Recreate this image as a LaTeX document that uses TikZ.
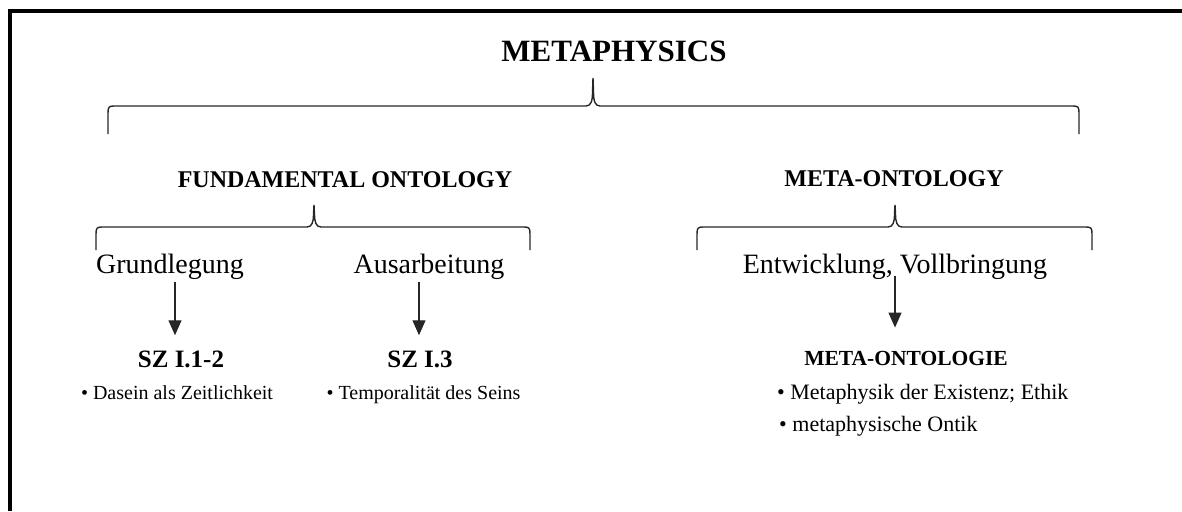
\documentclass[tikz,border=0pt]{standalone}
\usepackage{fontspec}
\setmainfont{Liberation Serif}
\usetikzlibrary{arrows.meta,positioning,calc}

\begin{document}
\begin{tikzpicture}[
    x=1pt,y=-1pt,
    every node/.style={inner sep=0pt,anchor=base},
    title/.style={font=\bfseries\fontsize{31}{36}\selectfont},
    branch/.style={font=\bfseries\fontsize{24}{29}\selectfont},
    term/.style={font=\fontsize{28}{33}\selectfont},
    work/.style={font=\bfseries\fontsize{25}{30}\selectfont},
    workmeta/.style={font=\bfseries\fontsize{21.5}{26}\selectfont},
    point/.style={font=\fontsize{20}{24}\selectfont},
    pointmeta/.style={font=\fontsize{22}{26}\selectfont,anchor=base west},
    bracket/.style={draw=black!85,line width=1.4pt},
    lead/.style={-{Triangle[width=13pt,length=15pt]},draw=black!85,line width=1.3pt},
    frame/.style={draw=black,line width=4pt},
]
\useasboundingbox (0,0) rectangle (1182,511);
% ---- frame (top and left edge only) ----
\draw[frame] (9.5,511) -- (9.5,11.5) -- (1182,11.5);

% ---- top level ----
\node[title] (metaph) at (614,62) {METAPHYSICS};
\draw[bracket] (108,134) -- (108,113) .. controls (108,107) and (109,106) .. (114,106)
   -- (586,106) .. controls (591,106) and (592.5,101) .. (592.5,92) -- (593,78)
   -- (593.5,92) .. controls (593.5,101) and (595,106) .. (600,106)
   -- (1073,106) .. controls (1078,106) and (1079,107) .. (1079,113) -- (1079,134);

% ---- the two branches ----
\node[branch] (fundont) at (345,187) {FUNDAMENTAL ONTOLOGY};
\node[branch] (metaont) at (894,186) {META-ONTOLOGY};

\draw[bracket] (96,250) -- (96,234) .. controls (96,228) and (97,227) .. (102,227)
   -- (307,227) .. controls (312,227) and (313.5,222) .. (313.5,214) -- (314,205)
   -- (314.5,214) .. controls (314.5,222) and (316,227) .. (321,227)
   -- (524,227) .. controls (529,227) and (530,228) .. (530,234) -- (530,250);
\draw[bracket] (697,250) -- (697,234) .. controls (697,228) and (698,227) .. (703,227)
   -- (888,227) .. controls (893,227) and (894.5,222) .. (894.5,214) -- (895,205)
   -- (895.5,214) .. controls (895.5,222) and (897,227) .. (902,227)
   -- (1086,227) .. controls (1091,227) and (1092,228) .. (1092,234) -- (1092,250);

% ---- terms ----
\node[term] (grund) at (170,273) {Grundlegung};
\node[term] (ausarb) at (429,273) {Ausarbeitung};
\node[term] (entw) at (895,273) {Entwicklung, Vollbringung};

% ---- works ----
\node[work] (sz12) at (181,367) {SZ I.1-2};
\node[work] (sz3) at (420,367) {SZ I.3};
\node[workmeta] (metaontol) at (906,365) {META-ONTOLOGIE};

\node[point] (dasein) at (177,399) {• Dasein als Zeitlichkeit};
\node[point] (temp) at (423.5,399) {• Temporalität des Seins};
\node[pointmeta] (metaA) at (777,399) {• Metaphysik der Existenz; Ethik};
\node[pointmeta] (metaB) at (779,431) {• metaphysische Ontik};

% ---- arrows ----
\coordinate (axA) at (175,0);
\coordinate (axB) at (419,0);
\coordinate (axC) at (895,0);
\draw[lead,shorten <=3pt,shorten >=15pt] (grund.south -| axA) -- (sz12.north -| axA);
\draw[lead,shorten <=3pt,shorten >=15pt] (ausarb.south -| axB) -- (sz3.north -| axB);
\draw[lead,shorten <=-3pt,shorten >=23pt] (entw.south -| axC) -- (metaontol.north -| axC);
\end{tikzpicture}
\end{document}
